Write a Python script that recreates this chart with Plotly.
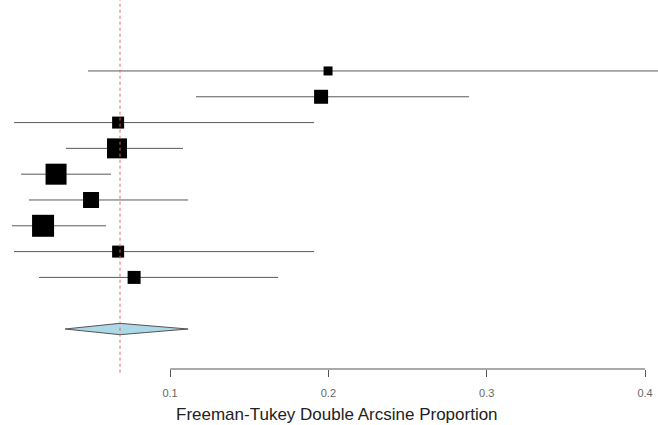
import plotly.graph_objects as go

# Study rows (top to bottom)
rows = [1, 2, 3, 4, 5, 6, 7, 8, 9]
est = [0.1998, 0.1954, 0.0672, 0.0665, 0.0280, 0.0501, 0.0198, 0.0672, 0.0773]
lower = [0.0482, 0.1164, 0.0015, 0.0343, 0.0059, 0.0109, 0.0002, 0.0015, 0.0172]
upper = [0.4500, 0.2889, 0.1910, 0.1082, 0.0627, 0.1114, 0.0596, 0.1910, 0.1682]
weight_px = [9, 14, 12, 20, 21, 16, 22, 12, 13]

# Pooled estimate
pooled_est = 0.0684
pooled_lo = 0.0337
pooled_hi = 0.1114
pooled_row = 11

tick_vals = [0.1, 0.2, 0.3, 0.4]
tick_text = ["0.1", "0.2", "0.3", "0.4"]
x_title = "Freeman-Tukey Double Arcsine Proportion"

fig = go.Figure()

# CI lines
for r, lo, hi in zip(rows, lower, upper):
    fig.add_trace(go.Scatter(x=[lo, hi], y=[r, r], mode="lines",
                             line=dict(color="#5a5a5a", width=1),
                             hoverinfo="skip", showlegend=False))

# Squares
fig.add_trace(go.Scatter(x=est, y=rows, mode="markers", opacity=1,
                         marker=dict(symbol="square", size=weight_px, color="black",
                                     opacity=1, line=dict(width=0)),
                         showlegend=False))

# Diamond
h = 0.22
fig.add_trace(go.Scatter(
    x=[pooled_lo, pooled_est, pooled_hi, pooled_est, pooled_lo],
    y=[pooled_row, pooled_row - h, pooled_row, pooled_row + h, pooled_row],
    mode="lines", fill="toself", fillcolor="#ADD8E6",
    line=dict(color="#555555", width=1), showlegend=False, hoverinfo="skip"))

# Reference dashed line at pooled estimate
fig.add_shape(type="line", xref="x", yref="paper", x0=pooled_est, x1=pooled_est,
              y0=-0.01, y1=1, line=dict(color="#E06666", width=1, dash="3px,3px"))

# Axis line between first and last tick
fig.add_shape(type="line", xref="x", yref="paper", x0=tick_vals[0], x1=tick_vals[-1],
              y0=0, y1=0, line=dict(color="#555555", width=1))

fig.add_annotation(x=0.1, xref="x", y=-0.122, yref="paper", text=x_title, xshift=4,
                   showarrow=False, font=dict(family="Liberation Sans", size=17, color="#222222"),
                   xanchor="left", yanchor="middle")

fig.update_layout(
    width=658, height=425,
    margin=dict(l=0, r=0, t=0, b=56),
    paper_bgcolor="white", plot_bgcolor="white",
    xaxis=dict(range=[-0.0074, 0.4082], showgrid=False, zeroline=False, showline=False,
               tickvals=tick_vals, ticktext=tick_text, ticks="outside", ticklen=7,
               tickcolor="#555555", tickwidth=1, ticklabelstandoff=7,
               tickfont=dict(family="Liberation Sans", size=11, color="#666666")),
    yaxis=dict(range=[12.55, -1.75], showgrid=False, zeroline=False, showline=False,
               showticklabels=False, ticks=""),
)

fig.write_html("out.html")
